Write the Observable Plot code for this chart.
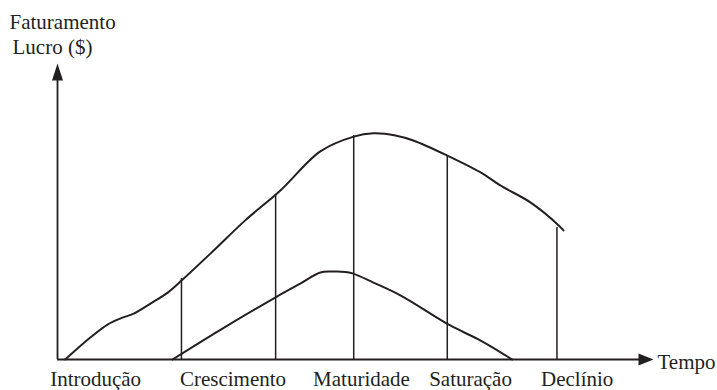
<!DOCTYPE html>
<html>
<head>
<meta charset="utf-8">
<script src="https://cdn.jsdelivr.net/npm/d3@7"></script>
<script src="https://cdn.jsdelivr.net/npm/@observablehq/plot@0.6"></script>
<style>
  body { margin: 0; background: #fff; }
  #chart svg { display: block; }
</style>
</head>
<body>
<div id="chart"></div>
<script>
// Product life cycle: revenue (faturamento) and profit (lucro) over time.
const timeDomain = [0, 100];
const valueDomain = [0, 100];

// Revenue curve
const revenueTime  = [1.3, 5.5, 8.4, 10.6, 12.8, 15.6, 18.5, 21.0, 26.2, 31.5, 37.4, 44.1, 49.7, 53.0, 56.7, 59.7, 65.4, 71.0, 74.3, 79.4, 84.1, 84.9];
const revenueValue = [0.0, 7.4, 11.8, 13.9, 15.5, 18.9, 22.6, 27.0, 36.8, 47.0, 57.1, 70.3, 75.3, 76.4, 75.7, 74.0, 68.9, 63.2, 58.8, 53.0, 45.3, 43.6];

// Profit curve
const profitTime  = [19.3, 27.4, 36.6, 40.8, 44.1, 46.1, 48.3, 49.5, 53.0, 57.6, 65.9, 71.0, 76.3];
const profitValue = [0.0, 10.1, 21.0, 25.7, 29.4, 29.7, 29.6, 29.1, 26.0, 21.6, 11.5, 6.4, 0.0];

// Phase boundaries (vertical lines reach up to the revenue curve)
const boundaryTime = [20.8, 36.6, 49.7, 65.4, 83.8];
const boundaryTop  = [27.4, 55.7, 75.7, 68.9, 44.6];

// Phase names and where they sit along the time axis
const phases = ["Introdução", "Crescimento", "Maturidade", "Saturação", "Declínio"];
const phaseLabelTime = [6.4, 29.45, 51.0, 69.3, 87.2];

const yTitle = ["Faturamento", "Lucro ($)"];
const xTitle = "Tempo";

const ink = "#231f20";
const font = "Liberation Serif";

const revenue = revenueTime.map((t, i) => ({t, v: revenueValue[i]}));
const profit = profitTime.map((t, i) => ({t, v: profitValue[i]}));
const boundaries = boundaryTime.map((t, i) => ({t, top: boundaryTop[i]}));
const phaseLabels = phases.map((name, i) => ({name, t: phaseLabelTime[i]}));

// Filled arrowheads for the axes (tip sits on the data point)
const arrowUp = {draw(ctx) { ctx.moveTo(0, 0); ctx.lineTo(-5.5, 17); ctx.lineTo(5.5, 17); ctx.closePath(); }};
const arrowRight = {draw(ctx) { ctx.moveTo(0, 0); ctx.lineTo(-15, -6); ctx.lineTo(-15, 6); ctx.closePath(); }};

const textStyle = {fill: ink, fontSize: 21, fontFamily: font};

const chart = Plot.plot({
  width: 717,
  height: 390,
  marginLeft: 57,
  marginRight: 64,
  marginTop: 63,
  marginBottom: 31,
  style: {fontFamily: font, fontSize: "21px", color: ink, background: "#fff"},
  x: {domain: timeDomain, axis: null},
  y: {domain: valueDomain, axis: null},
  marks: [
    // axes
    Plot.ruleY([valueDomain[0]], {x1: timeDomain[0], x2: timeDomain[1] - 1, stroke: ink, strokeWidth: 1.8}),
    Plot.ruleX([timeDomain[0]], {y1: valueDomain[0], y2: valueDomain[1] - 2, stroke: ink, strokeWidth: 1.8}),
    Plot.dot([{t: timeDomain[0], v: valueDomain[1]}], {x: "t", y: "v", symbol: arrowUp, fill: ink, stroke: "none"}),
    Plot.dot([{t: timeDomain[1], v: valueDomain[0]}], {x: "t", y: "v", symbol: arrowRight, fill: ink, stroke: "none"}),
    // phase boundaries
    Plot.ruleX(boundaries, {x: "t", y1: 0, y2: "top", stroke: ink, strokeWidth: 1.5}),
    // curves
    Plot.line(revenue, {x: "t", y: "v", curve: "catmull-rom", stroke: ink, strokeWidth: 2}),
    Plot.line(profit, {x: "t", y: "v", curve: "catmull-rom", stroke: ink, strokeWidth: 2}),
    // phase names under the time axis
    Plot.text(phaseLabels, {x: "t", y: 0, text: "name", dy: 26, lineAnchor: "bottom", textAnchor: "middle", ...textStyle}),
    // axis titles
    Plot.text([xTitle], {x: timeDomain[1], y: valueDomain[0], dx: 4, dy: 9, textAnchor: "start", lineAnchor: "bottom", ...textStyle}),
    Plot.text([yTitle[0]], {frameAnchor: "top-left", dx: -48, dy: -35, textAnchor: "start", lineAnchor: "bottom", ...textStyle}),
    Plot.text([yTitle[1]], {frameAnchor: "top-left", dx: -45, dy: -10, textAnchor: "start", lineAnchor: "bottom", ...textStyle})
  ]
});

document.getElementById("chart").append(chart);
</script>
</body>
</html>
